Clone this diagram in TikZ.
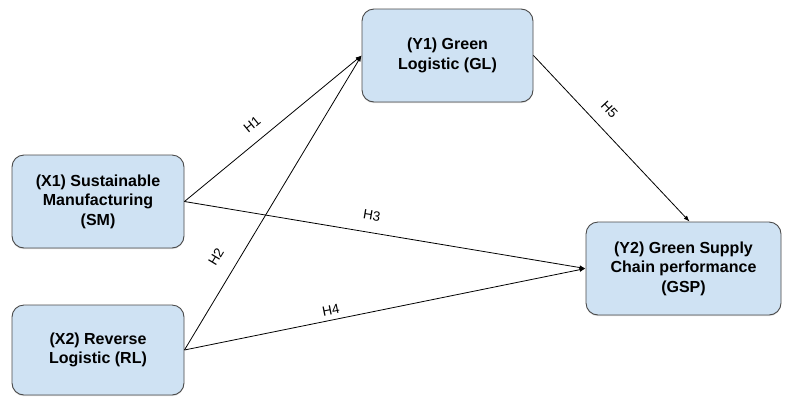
\documentclass[tikz,border=0pt]{standalone}
\usepackage{fontspec}
\setmainfont{Liberation Sans}
\usetikzlibrary{arrows.meta,shadows}

\definecolor{boxfill}{HTML}{CFE2F3}
\definecolor{boxline}{HTML}{4A4A4A}

\tikzset{
  varbox/.style={draw=boxline, fill=boxfill, line width=0.9pt,
    rounded corners=12pt, align=center, inner sep=0pt,
    font=\bfseries\fontsize{16}{19.5}\selectfont,
    drop shadow={shadow xshift=0pt, shadow yshift=-1.2pt, opacity=0.25}},
  hyp/.style={draw=black, line width=0.8pt,
    -{Latex[length=6pt,width=4.5pt]}},
  hlabel/.style={font=\fontsize{13.5}{13.5}\selectfont, inner sep=0pt, sloped}
}

\begin{document}
\begin{tikzpicture}[x=1pt, y=-1pt]
  \useasboundingbox (0,0) rectangle (786,397);

  % Define variables
  \node[varbox, minimum width=172pt, minimum height=93pt] (sm) at (98,201.5)
    {(X1) Sustainable\\Manufacturing\\(SM)};
  \node[varbox, minimum width=172pt, minimum height=90pt] (rl) at (98,350)
    {(X2) Reverse\\Logistic (RL)};
  \node[varbox, minimum width=171pt, minimum height=93pt] (gl) at (447.5,55.5)
    {(Y1) Green\\Logistic (GL)};
  \node[varbox, minimum width=195pt, minimum height=93pt] (gsp) at (683.5,268.5)
    {(Y2) Green Supply\\Chain performance\\(GSP)};

  % Draw hypotheses
  \draw[hyp] (sm.east) -- node[hlabel, pos=0.44, above=11pt] {H1} (gl.west);
  \draw[hyp] (rl.east) -- node[hlabel, pos=0.28, above=16pt] {H2} (gl.west);
  \draw[hyp] (sm.east) -- node[hlabel, pos=0.46, above=12pt] {H3} (gsp.west);
  \draw[hyp] (rl.east) -- node[hlabel, pos=0.37, above=5pt] {H4} (gsp.west);
  \draw[hyp] (gl.east) -- node[hlabel, pos=0.40, above=13.5pt] {H5} ([xshift=6pt]gsp.north);
\end{tikzpicture}
\end{document}
